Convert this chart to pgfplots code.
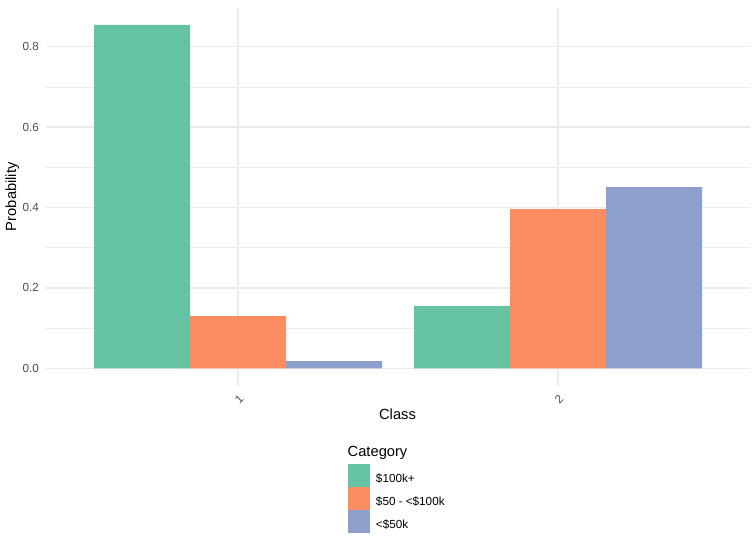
\documentclass[border=0pt]{standalone}
\usepackage{fontspec}
\setmainfont{Liberation Sans}
\usepackage{pgfplots}
\pgfplotsset{compat=1.18}
\definecolor{cA}{HTML}{66C2A5}
\definecolor{cB}{HTML}{FC8D62}
\definecolor{cC}{HTML}{8DA0CB}
\definecolor{gridc}{HTML}{EBEBEB}
\definecolor{tickc}{HTML}{4D4D4D}
\newcommand{\ticksize}{\fontsize{11.7bp}{14bp}\selectfont}
\newcommand{\titlesize}{\fontsize{14.7bp}{17bp}\selectfont}
\begin{document}
\begin{tikzpicture}
\path[use as bounding box] (0,0) rectangle (756bp,538bp);
\begin{axis}[
  at={(46bp,152.5bp)}, anchor=south west,
  scale only axis, width=704bp, height=377.7bp,
  xmin=0.4, xmax=2.6, ymin=-0.0427, ymax=0.8967,
  axis line style={draw=none},
  major tick length=0pt, minor tick length=0pt,
  xtick={1,2}, ytick={0,0.2,0.4,0.6,0.8},
  minor ytick={0.1,0.3,0.5,0.7},
  xmajorgrids, ymajorgrids, yminorgrids,
  major grid style={gridc, line width=1.4bp},
  minor grid style={gridc, line width=0.7bp},
  /pgf/number format/assume math mode=true,
  yticklabel style={/pgf/number format/fixed, /pgf/number format/fixed zerofill, /pgf/number format/precision=1,
    anchor=east, xshift=-7bp, inner sep=0pt, font=\ticksize, text=tickc},
  xticklabel style={yshift=-13.5bp, xshift=1bp, rotate=45, anchor=center, inner sep=0pt, font=\ticksize, text=tickc},
  ybar, bar width=0.3,
  legend image code/.code={\path (0,-7.5bp) rectangle (22bp,15.5bp); \fill[#1] (0,-6.25bp) rectangle (21.7bp,14.25bp);},
  legend cell align=left,
  legend style={at={(0.4294,-0.2072)}, anchor=north west, draw=none, fill=none, inner sep=0pt, outer sep=0pt,
    row sep=0pt, column sep=5.7bp, font=\ticksize, nodes={inner sep=0pt}},
]
\addplot[fill=cA, draw=none, bar shift=-0.3] coordinates {(1,0.854) (2,0.155)};
\addlegendentry{\$100k+}
\addplot[fill=cB, draw=none, bar shift=0] coordinates {(1,0.130) (2,0.396)};
\addlegendentry{\$50 - <\$100k}
\addplot[fill=cC, draw=none, bar shift=0.3] coordinates {(1,0.018) (2,0.451)};
\addlegendentry{<\$50k}
\end{axis}
\node[anchor=base, inner sep=0pt, font=\titlesize] at (397.5bp,118.7bp) {Class};
\node[anchor=base, rotate=90, inner sep=0pt, font=\titlesize] at (16bp,341.3bp) {Probability};
\node[anchor=base west, inner sep=0pt, font=\titlesize] at (347.5bp,81.3bp) {Category};
\end{tikzpicture}
\end{document}
